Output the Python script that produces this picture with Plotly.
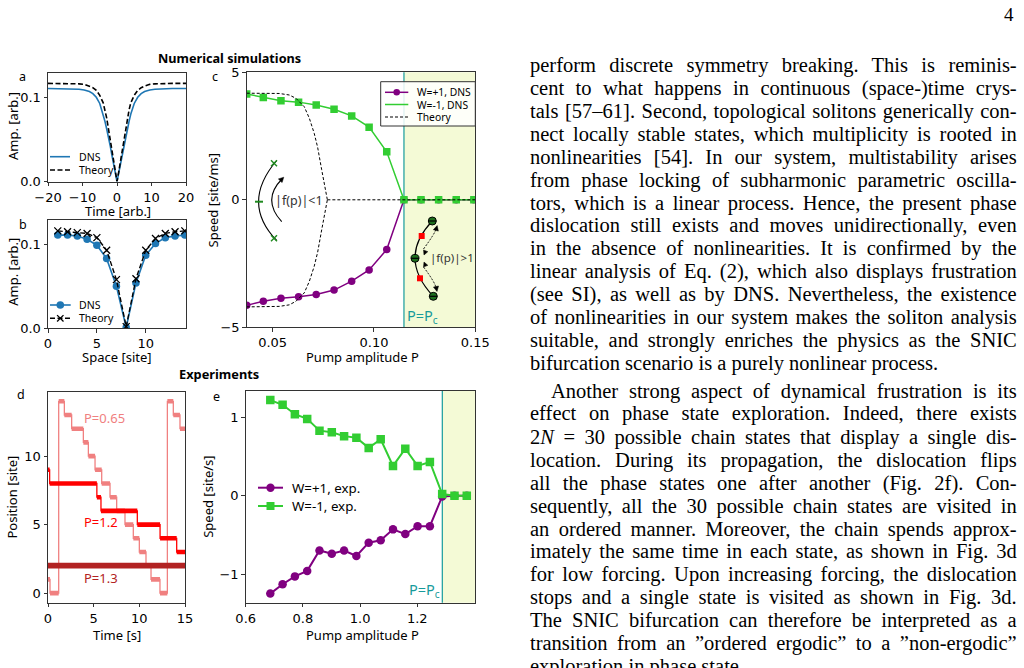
import json
import re
import math
import plotly.graph_objects as go

W, H = 1024, 668

# ---------------- data ----------------
# panel a : soliton profile vs time
a_t = [-20, -16, -13, -11, -9.5, -8, -7, -6, -5, -4, -3.5, -3, -2.5, -2, -1.5, -1, -0.5, 0,
       0.5, 1, 1.5, 2, 2.5, 3, 3.5, 4, 5, 6, 7, 8, 9.5, 11, 13, 16, 20]
a_dns = [0.1103, 0.1102, 0.1099, 0.1094, 0.1085, 0.1066, 0.1042, 0.0998, 0.0925, 0.0800, 0.0714,
         0.0625, 0.0536, 0.0430, 0.0317, 0.0210, 0.0100, 0.0,
         0.0100, 0.0210, 0.0317, 0.0430, 0.0536, 0.0625, 0.0714, 0.0800, 0.0925, 0.0998, 0.1042,
         0.1066, 0.1085, 0.1094, 0.1099, 0.1102, 0.1103]
a_theory = [0.1163, 0.1163, 0.1162, 0.1158, 0.1152, 0.1132, 0.1112, 0.1080, 0.1022, 0.0933, 0.0850,
            0.0754, 0.0630, 0.0496, 0.0365, 0.0235, 0.0115, 0.0,
            0.0115, 0.0235, 0.0365, 0.0496, 0.0630, 0.0754, 0.0850, 0.0933, 0.1022, 0.1080, 0.1112,
            0.1132, 0.1152, 0.1158, 0.1162, 0.1163, 0.1163]

# panel b : soliton profile vs site
b_site = [1, 2, 3, 4, 5, 6, 7, 8, 9, 10, 11, 12, 13, 14]
b_dns = [0.111, 0.111, 0.110, 0.106, 0.099, 0.083, 0.050, 0.001, 0.054, 0.087, 0.101, 0.108, 0.110, 0.111]
b_theory = [0.116, 0.115, 0.114, 0.113, 0.108, 0.093, 0.058, 0.002, 0.059, 0.093, 0.107, 0.113, 0.115, 0.116]

# panel c : speed vs pump (simulations)
c_pump = [0.0372, 0.0454, 0.0541, 0.0628, 0.0715, 0.0803, 0.0890, 0.0976, 0.1063, 0.1148,
          0.1232, 0.1319, 0.1406, 0.1493]
c_w_plus = [-4.14, -3.98, -3.86, -3.80, -3.71, -3.54, -3.19, -2.75, -1.95, 0, 0, 0, 0, 0]
c_w_minus = [4.15, 4.01, 3.88, 3.83, 3.72, 3.55, 3.29, 2.85, 1.88, 0, 0, 0, 0, 0]
c_th_pump = [0.0372, 0.045, 0.0533, 0.0582, 0.0615, 0.0656, 0.0681, 0.0705, 0.0722, 0.0742, 0.0757, 0.0770]
c_th_upper = [4.18, 4.18, 4.17, 4.11, 3.98, 3.65, 3.20, 2.61, 2.06, 1.18, 0.52, 0.0]
c_th_lower = [-4.20, -4.20, -4.18, -4.12, -3.98, -3.65, -3.20, -2.61, -2.06, -1.18, -0.52, 0.0]
c_th_zero_pump = [0.0770, 0.15]
c_th_zero = [0.0, 0.0]
c_pc = 0.1148

# panel d : dislocation position vs time (experiments)
d065_t = [0, 0.22, 1.17, 1.79, 2.59, 3.87, 4.42, 5.15, 5.88, 6.79, 7.52, 8.43, 9.34, 10.0, 10.73,
          11.28, 12.26, 13.07, 13.72, 14.45, 15]
d065_pos = [1, 0, 14, 13, 12, 11, 10, 9, 8, 7, 6, 5, 4, 3, 2, 1, 0, 14, 13, 12]
d12_t = [0, 0.18, 5.35, 5.8, 9.78, 12.27, 14.09, 15]
d12_pos = [9, 8, 7, 6, 5, 4, 3]
d13_t = [0, 15]
d13_pos = [2]

# panel e : speed vs pump (experiments)
e_pump = [0.686, 0.729, 0.772, 0.815, 0.858, 0.901, 0.944, 0.987, 1.030, 1.072, 1.115, 1.158,
          1.201, 1.244, 1.287, 1.330, 1.373]
e_w_plus = [-1.25, -1.13, -1.03, -0.96, -0.70, -0.74, -0.70, -0.77, -0.60, -0.57, -0.43, -0.49,
            -0.39, -0.39, -0.01, 0.0, 0.0]
e_w_minus = [1.22, 1.16, 1.04, 0.98, 0.83, 0.81, 0.76, 0.74, 0.61, 0.72, 0.38, 0.60, 0.38, 0.43,
             0.02, 0.0, 0.0]
e_pc = 1.2874

# page text
TEXT_LINES = [
    "perform discrete symmetry breaking. This is reminis-",
    "cent to what happens in continuous (space-)time crys-",
    "tals [57–61]. Second, topological solitons generically con-",
    "nect locally stable states, which multiplicity is rooted in",
    "nonlinearities [54]. In our system, multistability arises",
    "from phase locking of subharmonic parametric oscilla-",
    "tors, which is a linear process. Hence, the present phase",
    "dislocation still exists and moves unidirectionally, even",
    "in the absence of nonlinearities. It is confirmed by the",
    "linear analysis of Eq. (2), which also displays frustration",
    "(see SI), as well as by DNS. Nevertheless, the existence",
    "of nonlinearities in our system makes the soliton analysis",
    "suitable, and strongly enriches the physics as the SNIC",
    "bifurcation scenario is a purely nonlinear process.",
    "Another strong aspect of dynamical frustration is its",
    "effect on phase state exploration. Indeed, there exists",
    "2<i>N</i> = 30 possible chain states that display a single dis-",
    "location. During its propagation, the dislocation flips",
    "all the phase states one after another (Fig. 2f). Con-",
    "sequently, all the 30 possible chain states are visited in",
    "an ordered manner. Moreover, the chain spends approx-",
    "imately the same time in each state, as shown in Fig. 3d",
    "for low forcing. Upon increasing forcing, the dislocation",
    "stops and a single state is visited as shown in Fig. 3d.",
    "The SNIC bifurcation can therefore be interpreted as a",
    "transition from an ”ordered ergodic” to a ”non-ergodic”",
    "exploration in phase state.",
]
TEXT_Y = [65.7, 88.6, 111.5, 134.4, 157.3, 180.2, 203.1, 226.0, 248.9, 271.8, 294.7, 317.6,
          340.5, 363.6, 391.0, 414.0, 437.2, 460.1, 483.2, 506.0, 529.0, 551.8, 574.8, 597.7,
          620.4, 643.3, 666.4]
PARAGRAPH_END = [13, 26]
INDENTED = [14]

# ---------------- style ----------------
BLUE = '#1f77b4'
PURPLE = '#800080'
GREEN = '#32cd32'
TEAL = '#169b9b'
YELLOW = '#f4fad6'
PINK = '#f08080'
RED = '#ff0000'
FIREBRICK = '#b22222'
SPINE = '#333333'
SKETCH_GREEN = '#1f8a1f'
LABEL_FONT = 'Noto Sans'
TICK_FONT = 'DejaVu Sans'
BODY_FONT = 'Liberation Serif'
BODY_SIZE = 20.5
TEXT_LEFT, TEXT_RIGHT, TEXT_INDENT = 528.3, 1016.0, 549.3


def fx(x):
    return x / W


def fy(y):
    return 1 - y / H


# axes boxes in pixels: left, right, top, bottom
BOX = {
    'a': (48, 186, 72.7, 181.5),
    'b': (48, 186, 220.0, 328.3),
    'c': (246.7, 475.3, 72.3, 327.3),
    'd': (48, 185, 391.7, 602.7),
    'e': (245.7, 475, 390.7, 602.7),
}

fig = go.Figure()

# panel a
fig.add_trace(go.Scatter(x=a_t, y=a_dns, mode='lines', line=dict(color=BLUE, width=1.6),
                         xaxis='x', yaxis='y', name='DNS'))
fig.add_trace(go.Scatter(x=a_t, y=a_theory, mode='lines',
                         line=dict(color='black', width=1.6, dash='5px,2.5px'),
                         xaxis='x', yaxis='y', name='Theory'))
# panel b
fig.add_trace(go.Scatter(x=b_site, y=b_dns, mode='lines+markers', line=dict(color=BLUE, width=1.6),
                         marker=dict(symbol='circle', size=7.5, color=BLUE),
                         xaxis='x2', yaxis='y2', name='DNS'))
fig.add_trace(go.Scatter(x=b_site, y=b_theory, mode='lines+markers',
                         line=dict(color='black', width=1.4, dash='5px,2.5px'),
                         marker=dict(symbol='x-thin', size=7, line=dict(color='black', width=1.3)),
                         xaxis='x2', yaxis='y2', name='Theory'))
# panel c
fig.add_trace(go.Scatter(x=c_pump, y=c_w_plus, mode='lines+markers', line=dict(color=PURPLE, width=1.5),
                         marker=dict(symbol='circle', size=7.5, color=PURPLE),
                         xaxis='x3', yaxis='y3', name='W=+1, DNS'))
fig.add_trace(go.Scatter(x=c_pump, y=c_w_minus, mode='lines+markers', line=dict(color=GREEN, width=1.5),
                         marker=dict(symbol='square', size=7.5, color=GREEN),
                         xaxis='x3', yaxis='y3', name='W=-1, DNS'))
th_x = c_th_pump + [None] + c_th_pump + [None] + c_th_zero_pump
th_y = c_th_upper + [None] + c_th_lower + [None] + c_th_zero
fig.add_trace(go.Scatter(x=th_x, y=th_y, mode='lines', line=dict(color='black', width=1, dash='3px,2px'),
                         xaxis='x3', yaxis='y3', name='Theory', connectgaps=False))


# panel d
def step_traces(t, pos, color, thick, name):
    xs, ys = [], []
    for i in range(len(pos)):
        xs += [t[i], t[i + 1], None]
        ys += [pos[i], pos[i], None]
    fig.add_trace(go.Scatter(x=t, y=pos + [pos[-1]], mode='lines', line=dict(color=color, width=1.3, shape='hv'),
                             xaxis='x4', yaxis='y4', name=name))
    fig.add_trace(go.Scatter(x=xs, y=ys, mode='lines', line=dict(color=color, width=thick),
                             xaxis='x4', yaxis='y4', name=name))


step_traces(d065_t, d065_pos, PINK, 4.6, 'P=0.65')
step_traces(d12_t, d12_pos, RED, 4.6, 'P=1.2')
step_traces(d13_t, d13_pos, FIREBRICK, 5.8, 'P=1.3')

# panel e
fig.add_trace(go.Scatter(x=e_pump, y=e_w_plus, mode='lines+markers', line=dict(color=PURPLE, width=2),
                         marker=dict(symbol='circle', size=8.5, color=PURPLE),
                         xaxis='x5', yaxis='y5', name='W=+1, exp.'))
fig.add_trace(go.Scatter(x=e_pump, y=e_w_minus, mode='lines+markers', line=dict(color=GREEN, width=2),
                         marker=dict(symbol='square', size=8.5, color=GREEN),
                         xaxis='x5', yaxis='y5', name='W=-1, exp.'))


def axis(key, rng, tv, tt, anchor):
    l, r, t, b = BOX[key]
    return dict(domain=[fx(l), fx(r)], range=rng, tickvals=tv, ticktext=tt, anchor=anchor,
                showline=True, mirror=True, linecolor=SPINE, linewidth=1, ticks='outside',
                ticklen=3.5, tickwidth=1, tickcolor=SPINE, showgrid=False, zeroline=False,
                automargin=False,
                tickfont=dict(family=TICK_FONT, size=13, color='black'), fixedrange=True)


def yaxis(key, rng, tv, tt, anchor):
    l, r, t, b = BOX[key]
    d = axis(key, rng, tv, tt, anchor)
    d['domain'] = [fy(b), fy(t)]
    return d


M = '\u2212'
layout = dict(
    width=W, height=H, autosize=False,
    margin=dict(l=0, r=0, t=0, b=0, pad=0, autoexpand=False),
    paper_bgcolor='white', plot_bgcolor='white', showlegend=False, hovermode=False,
    xaxis=axis('a', [-20, 20], [-20, -10, 0, 10, 20], [M + '20', M + '10', '0', '10', '20'], 'y'),
    yaxis=yaxis('a', [0, 0.129], [0, 0.1], ['0.0', '0.1'], 'x'),
    xaxis2=axis('b', [0, 14.12], [0, 5, 10], ['0', '5', '10'], 'y2'),
    yaxis2=yaxis('b', [0, 0.129], [0, 0.1], ['0.0', '0.1'], 'x2'),
    xaxis3=axis('c', [0.0372, 0.15], [0.05, 0.10, 0.15], ['0.05', '0.10', '0.15'], 'y3'),
    yaxis3=yaxis('c', [-5, 5], [-5, 0, 5], [M + '5', '0', '5'], 'x3'),
    xaxis4=axis('d', [0, 15], [0, 5, 10, 15], ['0', '5', '10', '15'], 'y4'),
    yaxis4=yaxis('d', [-0.7, 14.7], [0, 5, 10], ['0', '5', '10'], 'x4'),
    xaxis5=axis('e', [0.6, 1.4017], [0.6, 0.8, 1.0, 1.2], ['0.6', '0.8', '1.0', '1.2'], 'y5'),
    yaxis5=yaxis('e', [-1.366, 1.34], [-1, 0, 1], [M + '1', '0', '1'], 'x5'),
)
fig.update_layout(**layout)

shapes = []
annotations = []

# shaded region and critical lines
shapes.append(dict(type='rect', xref='x3', yref='y3 domain', x0=c_pc, x1=0.15, y0=0, y1=1,
                   fillcolor=YELLOW, line=dict(width=0), layer='below'))
shapes.append(dict(type='rect', xref='x5', yref='y5 domain', x0=e_pc, x1=1.4017, y0=0, y1=1,
                   fillcolor=YELLOW, line=dict(width=0), layer='below'))
shapes.append(dict(type='line', xref='x3', yref='y3 domain', x0=c_pc, x1=c_pc, y0=0, y1=1,
                   line=dict(color=TEAL, width=1.2), layer='below'))
shapes.append(dict(type='line', xref='x5', yref='y5 domain', x0=e_pc, x1=e_pc, y0=0, y1=1,
                   line=dict(color=TEAL, width=1.2), layer='below'))


def pline(x0, y0, x1, y1, color, width=1.0, dash='solid'):
    shapes.append(dict(type='line', xref='paper', yref='paper', x0=fx(x0), y0=fy(y0), x1=fx(x1), y1=fy(y1),
                       line=dict(color=color, width=width, dash=dash)))


def pcirc(cx, cy, r, fill, lc=None, lw=0):
    shapes.append(dict(type='circle', xref='paper', yref='paper', x0=fx(cx - r), x1=fx(cx + r),
                       y0=fy(cy + r), y1=fy(cy - r), fillcolor=fill,
                       line=dict(color=lc or fill, width=lw)))


def psq(cx, cy, h, fill):
    shapes.append(dict(type='rect', xref='paper', yref='paper', x0=fx(cx - h), x1=fx(cx + h),
                       y0=fy(cy + h), y1=fy(cy - h), fillcolor=fill, line=dict(width=0)))


def pcross(cx, cy, h, color, width=1.3):
    pline(cx - h, cy - h, cx + h, cy + h, color, width)
    pline(cx - h, cy + h, cx + h, cy - h, color, width)


def ptri(tip, direction, length=5.0, half=2.6):
    dx, dy = direction
    n = math.hypot(dx, dy)
    dx, dy = dx / n, dy / n
    bx, by = tip[0] - dx * length, tip[1] - dy * length
    p1 = (bx - dy * half, by + dx * half)
    p2 = (bx + dy * half, by - dx * half)
    path = 'M %f,%f L %f,%f L %f,%f Z' % (fx(tip[0]), fy(tip[1]), fx(p1[0]), fy(p1[1]), fx(p2[0]), fy(p2[1]))
    shapes.append(dict(type='path', xref='paper', yref='paper', path=path, fillcolor='black',
                       line=dict(color='black', width=0.5)))


def parc(p0, mid, p2, color, width=1.0, dash='solid', head=False):
    cx = 2 * mid[0] - (p0[0] + p2[0]) / 2
    cy = 2 * mid[1] - (p0[1] + p2[1]) / 2
    path = 'M %f,%f Q %f,%f %f,%f' % (fx(p0[0]), fy(p0[1]), fx(cx), fy(cy), fx(p2[0]), fy(p2[1]))
    shapes.append(dict(type='path', xref='paper', yref='paper', path=path,
                       line=dict(color=color, width=width, dash=dash)))
    if head:
        d = (p2[0] - cx, p2[1] - cy)
        n = math.hypot(*d)
        tip = (p2[0] + d[0] / n * 2.5, p2[1] + d[1] / n * 2.5)
        ptri(tip, d)


def text(x, y, s, size, color='black', family=LABEL_FONT, xanchor='left', yanchor='middle', angle=0,
         align='center'):
    annotations.append(dict(xref='paper', yref='paper', x=fx(x), y=fy(y), text=s, showarrow=False,
                            xanchor=xanchor, yanchor=yanchor, textangle=angle, align=align,
                            font=dict(family=family, size=size, color=color)))


# legend a
pline(50, 156.7, 70, 156.7, BLUE, 1.6)
text(77, 156.7, 'DNS', 10.5)
pline(50, 170, 70, 170, 'black', 1.6, '5px,2.5px')
text(77, 170, 'Theory', 10.5)
# legend b
pline(50, 305, 70.7, 305, BLUE, 1.6)
pcirc(60.3, 305, 3.8, BLUE)
text(77, 305, 'DNS', 10.5)
pline(50, 318.3, 70.7, 318.3, 'black', 1.4, '5px,2.5px')
pcross(60.3, 318.3, 3.2, 'black')
text(77, 318.3, 'Theory', 10.5)
# legend c
shapes.append(dict(type='rect', xref='paper', yref='paper', x0=fx(380.7), x1=fx(475.3), y0=fy(126),
                   y1=fy(81.7), fillcolor='rgba(255,255,255,0.85)', line=dict(color=SPINE, width=1)))
pline(385, 92.3, 408.3, 92.3, PURPLE, 1.5)
pcirc(396.7, 92.3, 3.3, PURPLE)
text(415, 92.3, 'W=+1, DNS', 10.3)
pline(385, 104.5, 408.3, 104.5, GREEN, 1.5)
text(415, 104.5, 'W=-1, DNS', 10.3)
pline(385, 117, 408.3, 117, 'black', 1.2, '3px,2px')
text(415, 117, 'Theory', 10.3)
# legend e
pline(258, 487.7, 283, 487.7, PURPLE, 2)
pcirc(270.5, 487.7, 4.2, PURPLE)
text(290, 487.7, 'W=+1, exp.', 13.3)
pline(258, 506, 283, 506, GREEN, 2)
psq(270.5, 506, 4.0, GREEN)
text(290, 506, 'W=-1, exp.', 13.3)

# inset sketch c (left, |f(p)|<1)
parc((276.7, 160.5), (258.6, 201.7), (276.7, 240.5), 'black', 1.1)
pcross(274, 163.3, 3.0, SKETCH_GREEN, 1.4)
pcross(274, 238.3, 3.0, SKETCH_GREEN, 1.4)
pline(255, 201.7, 263, 201.7, SKETCH_GREEN, 2)
parc((281.7, 221.7), (271.7, 200), (282.0, 179.0), 'black', 1.1, head=True)
text(273, 200.5, '|f(p)|&lt;1', 12.5, '#333333')
# inset sketch c (right, |f(p)|>1)
parc((432.3, 221), (415, 258.3), (433.3, 296.3), 'black', 1.1)
parc((423.5, 249), (432.5, 236), (436.5, 228.0), 'black', 1.0, '2px,1.5px', head=True)
parc((423.5, 267), (432.5, 280), (436.5, 289.0), 'black', 1.0, '2px,1.5px', head=True)
ptri((424.0, 255.0), (-0.4, 1.0), 4.5, 2.3)
ptri((424.0, 262.0), (-0.4, -1.0), 4.5, 2.3)
for (cx, cy) in [(432.3, 221), (415, 258.3), (433.3, 296.3)]:
    pcirc(cx, cy, 4.0, '#1d6e1d', 'black', 1)
    pline(cx - 4, cy, cx + 4, cy, 'black', 1.2)
psq(421.7, 236, 3.0, RED)
psq(420, 278.3, 3.0, RED)
text(427.5, 257.3, '|f(p)|&gt;1', 11.5, '#333333')

# P = Pc labels
text(404.5, 315.7, 'P=P<sub>c</sub>', 14.5, TEAL)
text(406.5, 590.0, 'P=P<sub>c</sub>', 14.5, TEAL)

# panel d labels
text(82, 418.3, 'P=0.65', 13, PINK)
text(82, 521.7, 'P=1.2', 13, RED)
text(82, 577.7, 'P=1.3', 13, FIREBRICK)

# titles and panel letters
text(229.5, 57.7, '<b>Numerical simulations</b>', 12.7, xanchor='center')
text(218.7, 374.0, '<b>Experiments</b>', 12.8, xanchor='center')
for lab, x, y in [('a', 22.7, 76.7), ('b', 22.7, 225), ('c', 215, 76), ('d', 20.7, 394.3), ('e', 216, 396)]:
    text(x, y, lab, 12.5, xanchor='center')

# axis titles
AXT = 13.0
text(117.5, 210.8, 'Time [arb.]', AXT, xanchor='center')
text(13.0, 126.0, 'Amp. [arb.]', AXT, xanchor='center', angle=-90)
text(116.7, 357.3, 'Space [site]', AXT, xanchor='center')
text(12.7, 272.0, 'Amp. [arb.]', AXT, xanchor='center', angle=-90)
text(362.0, 357.3, 'Pump amplitude P', AXT, xanchor='center')
text(212.0, 200.5, 'Speed [site/ms]', AXT, xanchor='center', angle=-90)
text(116.7, 634.5, 'Time [s]', AXT, xanchor='center')
text(12.0, 497.5, 'Position [site]', AXT, xanchor='center', angle=-90)
text(362.5, 634.5, 'Pump amplitude P', AXT, xanchor='center')
text(208.5, 497.3, 'Speed [site/s]', AXT, xanchor='center', angle=-90)

# page text column
justify = []
for i, (s, y) in enumerate(zip(TEXT_LINES, TEXT_Y)):
    x0 = TEXT_INDENT if i in INDENTED else TEXT_LEFT
    text(x0, y, s, BODY_SIZE, family=BODY_FONT, align='left')
    if i not in PARAGRAPH_END:
        justify.append([re.sub(r'<[^>]+>', '', s), TEXT_RIGHT - x0 - 1])
text(1016, 15, '4', 19, family=BODY_FONT, xanchor='right')

fig.update_layout(shapes=shapes, annotations=annotations)

post = """
document.documentElement.style.margin='0';
document.body.style.margin='0';
document.body.style.padding='0';
document.documentElement.style.overflow='hidden';
var JUST = %s;
var target = {};
JUST.forEach(function(p){ target[p[0]] = p[1]; });
document.querySelectorAll('g.annotation text.annotation-text').forEach(function(t){
  var s = t.textContent;
  if (Object.prototype.hasOwnProperty.call(target, s)) {
    t.style.wordSpacing = '0px';
    var L = t.getComputedTextLength();
    var n = (s.match(/ /g) || []).length;
    if (n > 0) { t.style.wordSpacing = ((target[s] - L) / n) + 'px'; }
  }
});
""" % json.dumps(justify)

fig.write_html('out.html', config={'displayModeBar': False}, post_script=post)
